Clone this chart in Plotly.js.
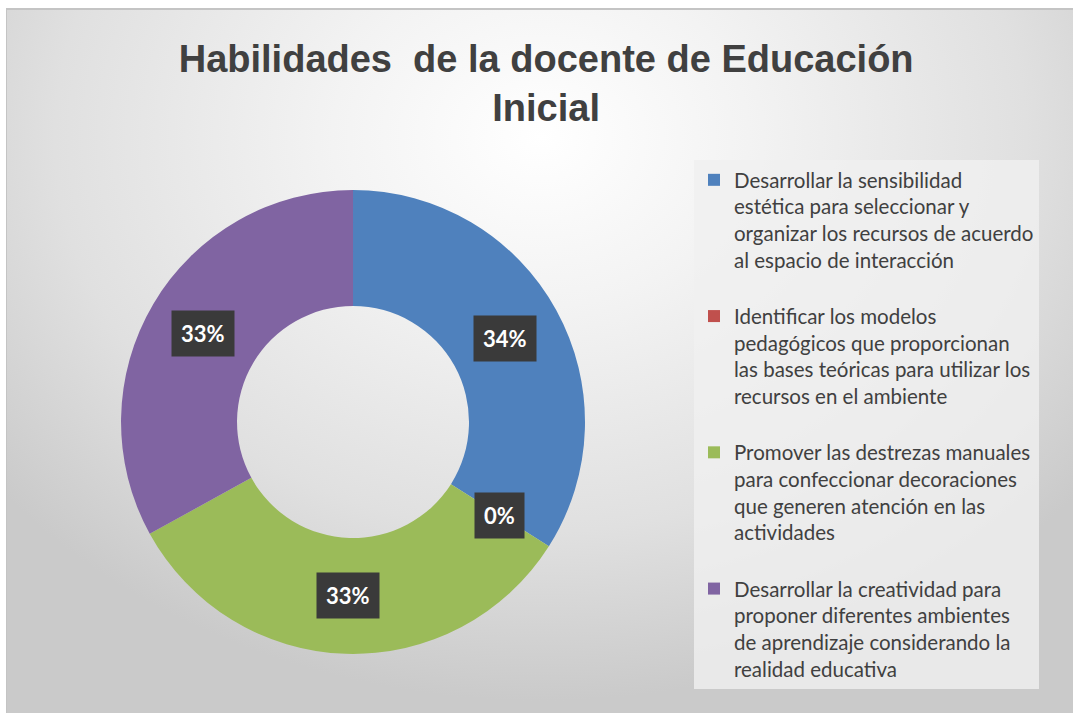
<!DOCTYPE html>
<html>
<head>
<meta charset="utf-8">
<script src="https://cdn.plot.ly/plotly-3.0.1.min.js"></script>
<style>
  html, body { margin:0; padding:0; background:#ffffff; }
  #wrap { position:relative; width:1073px; height:713px; overflow:hidden; }
  #frame { position:absolute; left:6px; top:8px; width:1067px; height:705px;
    border-left:1px solid #c4c4c4; border-top:2px solid #c4c4c4;
    background: radial-gradient(ellipse 65% 80% at 50% 18%, #ffffff 0%, #f3f3f3 30%, #e0e0e0 70%, #cacaca 100%); }
  #chart { position:absolute; left:0; top:0; width:1073px; height:713px; }
</style>
</head>
<body>
<div id="wrap"><div id="frame"></div><div id="chart"></div></div>
<script>
const chartTitle = 'Habilidades  de la docente de Educación<br>Inicial';
const categories = [
  'Desarrollar la sensibilidad<br>estética para seleccionar y<br>organizar los recursos de acuerdo<br>al espacio de interacción',
  'Identificar los modelos<br>pedagógicos que proporcionan<br>las bases teóricas para utilizar los<br>recursos en el ambiente',
  'Promover las destrezas manuales<br>para confeccionar decoraciones<br>que generen atención en las<br>actividades',
  'Desarrollar la creatividad para<br>proponer diferentes ambientes<br>de aprendizaje considerando la<br>realidad educativa'
];
const values = [34, 0, 33, 33];
const colors = ['#4f81bd', '#c0504d', '#9bbb59', '#8064a2'];

const W = 1073, H = 713;
const hole = 0.5;
const domX = [0.1128, 0.5452];
const domY = [0.0827, 0.7336];

const trace = {
  type: 'pie',
  // a trailing blank line gives the spacing between legend entries
  labels: categories.map((c, i) => i < categories.length - 1 ? c + '<br> ' : c),
  values: values,
  sort: false,
  direction: 'clockwise',
  rotation: 0,
  hole: hole,
  textinfo: 'none',
  hoverinfo: 'label+percent',
  marker: { colors: colors, line: { width: 0 } },
  domain: { x: domX, y: domY }
};

// label boxes placed at slice centres, computed from the values
const total = values.reduce((a, b) => a + b, 0);
const cxPx = (domX[0] + domX[1]) / 2 * W;
const cyPx = (1 - (domY[0] + domY[1]) / 2) * H;
const R = Math.min((domX[1] - domX[0]) * W, (domY[1] - domY[0]) * H) / 2;
const rMid = R * (1 + hole) / 2;
let cum = 0;
const annotations = values.map((v, i) => {
  const a = (cum + v / 2) / total * 2 * Math.PI;
  cum += v;
  const px = cxPx + rMid * Math.sin(a);
  const py = cyPx - rMid * Math.cos(a);
  return {
    xref: 'paper', yref: 'paper', x: px / W, y: 1 - py / H,
    text: '<b>' + Math.round(v / total * 100) + '%</b>',
    showarrow: false,
    font: { family: 'Lato, "Open Sans", sans-serif', size: 22, color: '#ffffff' },
    bgcolor: '#3a3a3a', borderpad: 9, xanchor: 'center', yanchor: 'middle'
  };
});

const layout = {
  width: W, height: H,
  margin: { l: 0, r: 0, t: 0, b: 0 },
  paper_bgcolor: 'rgba(0,0,0,0)',
  plot_bgcolor: 'rgba(0,0,0,0)',
  title: {
    text: chartTitle,
    font: { family: '"Liberation Sans", Arial, sans-serif', size: 38, color: '#404040', weight: 'bold' },
    x: 0.509, xanchor: 'center', xref: 'paper',
    y: 1 - 72 / H, yanchor: 'top', yref: 'paper'
  },
  showlegend: true,
  legend: {
    x: 694 / W, xanchor: 'left', y: 1 - 160 / H, yanchor: 'top',
    bgcolor: 'rgba(240,240,240,0.8)',
    font: { family: 'Lato, "Open Sans", sans-serif', size: 20.5, color: '#404040' },
    valign: 'top', traceorder: 'normal'
  },
  annotations: annotations
};

Plotly.newPlot('chart', [trace], layout, { displayModeBar: false, staticPlot: true });
</script>
</body>
</html>
